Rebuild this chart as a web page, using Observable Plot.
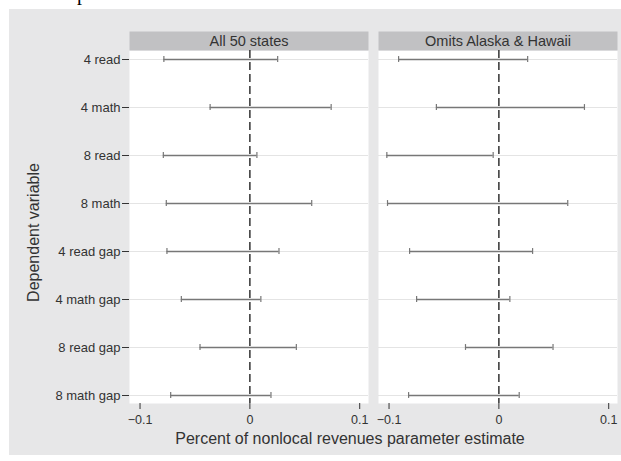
<!DOCTYPE html>
<html><head><meta charset="utf-8">
<script src="https://cdn.jsdelivr.net/npm/d3@7"></script>
<script src="https://cdn.jsdelivr.net/npm/@observablehq/plot@0.6"></script>
<style>
html,body{margin:0;padding:0;background:#fff;}
#wrap{position:relative;width:621px;height:461px;overflow:hidden;}
#frag{position:absolute;left:77px;top:-18px;font-family:"Liberation Serif",serif;font-size:20px;color:#000;}
#chart{position:absolute;left:9px;top:9px;}
</style></head><body>
<div id="wrap"><div id="frag">p</div><div id="chart"></div></div>
<script>
const categories = ["4 read","4 math","8 read","8 math","4 read gap","4 math gap","8 read gap","8 math gap"];
const panels = ["All 50 states","Omits Alaska & Hawaii"];
const lowAll  = [-0.0783, -0.0362, -0.0788, -0.0761, -0.0755, -0.0624, -0.0454, -0.0721];
const highAll = [ 0.0253,  0.0740,  0.0064,  0.0563,  0.0265,  0.0100,  0.0423,  0.0192];
const lowOmit  = [-0.0913, -0.0569, -0.1020, -0.1014, -0.0813, -0.0749, -0.0304, -0.0822];
const highOmit = [ 0.0262,  0.0779, -0.0052,  0.0627,  0.0307,  0.0100,  0.0493,  0.0185];
const xTicks = [-0.1, 0, 0.1];
const xTitle = "Percent of nonlocal revenues parameter estimate";
const yTitle = "Dependent variable";

const lows = [lowAll, lowOmit], highs = [highAll, highOmit];
const rows = [];
panels.forEach((p, i) => categories.forEach((c, j) => rows.push({panel: p, cat: c, lo: lows[i][j], hi: highs[i][j]})));

const font = "'Liberation Sans', Arial, sans-serif";
const capInset = (48.14 - 6) / 2;
const fmt = d3.format("");
const plot = Plot.plot({
  width: 612, height: 446,
  marginLeft: 120, marginRight: 4, marginTop: 41, marginBottom: 52,
  style: {background: "#e7e7e8", fontFamily: font, fontSize: "12px", color: "#333"},
  fx: {domain: panels, padding: 10/249, axis: null, label: null},
  x: {domain: [-0.1096, 0.108]},
  y: {type: "band", domain: categories, padding: 0, insetTop: -15.07, insetBottom: -17.07},
  marks: [
    Plot.frame({fill: "white"}),
    Plot.frame({fill: "#c1c1c3", insetTop: -19, insetBottom: 353}),
    Plot.text(panels.map(p => ({panel: p})), {fx: "panel", text: "panel", frameAnchor: "top", lineAnchor: "middle", dy: -9.5, fontSize: 14.5, fill: "#333"}),
    Plot.ruleY(categories, {y: d => d, stroke: "#e4e4e4"}),
    Plot.ruleX([0], {stroke: "#333", strokeWidth: 1.5, strokeDasharray: "8,4"}),
    Plot.ruleY(rows, {fx: "panel", y: "cat", x1: "lo", x2: "hi", stroke: "#777", strokeWidth: 1.3}),
    Plot.tickX(rows, {fx: "panel", x: "lo", y: "cat", stroke: "#777", strokeWidth: 1.2, insetTop: capInset, insetBottom: capInset}),
    Plot.tickX(rows, {fx: "panel", x: "hi", y: "cat", stroke: "#777", strokeWidth: 1.2, insetTop: capInset, insetBottom: capInset}),
    Plot.axisX({ticks: xTicks, tickFormat: fmt, tickSize: 6, tickPadding: 6, label: null, line: true, fontSize: 12.5}),
    Plot.axisY({tickSize: 7, tickPadding: 2, label: null, line: true, fontSize: 13})
  ]
});
document.getElementById("chart").appendChild(plot);
const svg = d3.select(plot);
svg.append("text").attr("x", 341).attr("y", 429).attr("dy", "0.35em")
  .attr("text-anchor", "middle").attr("font-size", 16).attr("fill", "#333").attr("font-family", font).text(xTitle);
svg.append("text").attr("transform", "translate(24,223.5) rotate(-90)").attr("dy", "0.35em")
  .attr("text-anchor", "middle").attr("font-size", 16).attr("fill", "#333").attr("font-family", font).text(yTitle);
</script>
</body></html>
